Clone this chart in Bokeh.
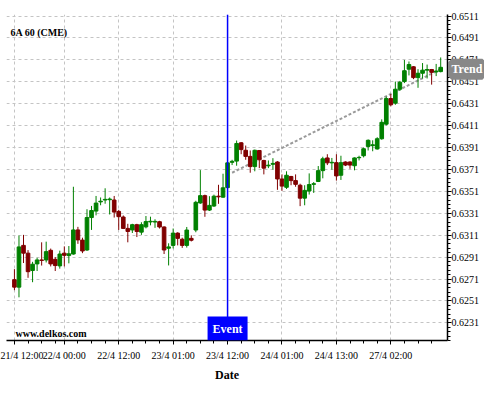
from bokeh.plotting import figure
from bokeh.models import FixedTicker, Span, Label, ColumnDataSource, PrintfTickFormatter, Range1d
from bokeh.embed import file_html
from bokeh.resources import INLINE

# ---- data (hourly OHLC, 6A futures) ----
opens = [0.62704, 0.62636, 0.63017, 0.62946, 0.62788, 0.62848, 0.62884, 0.62884, 0.62972, 0.62890,
         0.62830, 0.62946, 0.62924, 0.62938, 0.63158, 0.63065, 0.62975, 0.63271, 0.63330, 0.63414,
         0.63431, 0.63434, 0.63431, 0.63327, 0.63276, 0.63172, 0.63158, 0.63206, 0.63138, 0.63186,
         0.63231, 0.63230, 0.63233, 0.63185, 0.62991, 0.63017, 0.63129, 0.63073, 0.63017, 0.63081,
         0.63157, 0.63404, 0.63471, 0.63339, 0.63376, 0.63466, 0.63457, 0.63544, 0.63775, 0.63786,
         0.63953, 0.63885, 0.63829, 0.63736, 0.63883, 0.63792, 0.63743, 0.63757, 0.63778, 0.63623,
         0.63547, 0.63646, 0.63608, 0.63566, 0.63448, 0.63513, 0.63574, 0.63600, 0.63699, 0.63815,
         0.63770, 0.63772, 0.63657, 0.63778, 0.63778, 0.63744, 0.63817, 0.63835, 0.63920, 0.63927,
         0.63897, 0.63990, 0.64123, 0.64357, 0.64315, 0.64442, 0.64512, 0.64625, 0.64647, 0.64548,
         0.64588, 0.64616, 0.64622, 0.64600, 0.64603]
highs = [0.62800, 0.63107, 0.63113, 0.62974, 0.62867, 0.62904, 0.63045, 0.63051, 0.62988, 0.62910,
         0.62969, 0.63008, 0.63011, 0.63552, 0.63186, 0.63087, 0.63347, 0.63377, 0.63468, 0.63454,
         0.63538, 0.63454, 0.63468, 0.63341, 0.63290, 0.63214, 0.63214, 0.63214, 0.63228, 0.63285,
         0.63279, 0.63255, 0.63241, 0.63191, 0.63036, 0.63171, 0.63137, 0.63087, 0.63185, 0.63109,
         0.63424, 0.63704, 0.63480, 0.63466, 0.63480, 0.63570, 0.63671, 0.63770, 0.63798, 0.63974,
         0.63960, 0.63928, 0.63883, 0.63891, 0.63885, 0.63798, 0.63792, 0.63813, 0.63786, 0.63665,
         0.63693, 0.63651, 0.63665, 0.63580, 0.63566, 0.63674, 0.63595, 0.63741, 0.63826, 0.63849,
         0.63815, 0.63849, 0.63835, 0.63784, 0.63784, 0.63820, 0.63835, 0.63910, 0.63984, 0.63976,
         0.64004, 0.64167, 0.64375, 0.64399, 0.64512, 0.64518, 0.64709, 0.64695, 0.64653, 0.64625,
         0.64681, 0.64667, 0.64627, 0.64673, 0.64732]
lows = [0.62608, 0.62543, 0.62856, 0.62721, 0.62681, 0.62783, 0.62833, 0.62861, 0.62825, 0.62783,
        0.62805, 0.62825, 0.62853, 0.62932, 0.63031, 0.62946, 0.62966, 0.63158, 0.63291, 0.63383,
        0.63397, 0.63299, 0.63271, 0.63158, 0.63166, 0.63045, 0.63130, 0.63093, 0.63113, 0.63172,
        0.63200, 0.63177, 0.63171, 0.62938, 0.62834, 0.62989, 0.63017, 0.62994, 0.62997, 0.63053,
        0.63137, 0.63396, 0.63278, 0.63331, 0.63368, 0.63396, 0.63452, 0.63538, 0.63750, 0.63744,
        0.63849, 0.63798, 0.63680, 0.63693, 0.63722, 0.63665, 0.63722, 0.63708, 0.63524, 0.63515,
        0.63532, 0.63566, 0.63552, 0.63375, 0.63383, 0.63481, 0.63496, 0.63595, 0.63629, 0.63750,
        0.63708, 0.63608, 0.63614, 0.63741, 0.63716, 0.63702, 0.63792, 0.63820, 0.63883, 0.63876,
        0.63891, 0.63981, 0.64112, 0.64286, 0.64300, 0.64427, 0.64498, 0.64568, 0.64534, 0.64455,
        0.64540, 0.64540, 0.64484, 0.64562, 0.64596]
closes = [0.62636, 0.63003, 0.62946, 0.62777, 0.62845, 0.62884, 0.62880, 0.62960, 0.62848, 0.62833,
          0.62938, 0.62926, 0.62940, 0.63158, 0.63067, 0.62966, 0.63271, 0.63335, 0.63403, 0.63420,
          0.63437, 0.63440, 0.63321, 0.63279, 0.63172, 0.63144, 0.63206, 0.63144, 0.63206, 0.63234,
          0.63237, 0.63236, 0.63185, 0.62975, 0.63003, 0.63129, 0.63081, 0.63017, 0.63157, 0.63064,
          0.63410, 0.63471, 0.63339, 0.63382, 0.63466, 0.63460, 0.63542, 0.63770, 0.63784, 0.63947,
          0.63891, 0.63829, 0.63736, 0.63885, 0.63798, 0.63722, 0.63749, 0.63765, 0.63623, 0.63558,
          0.63657, 0.63608, 0.63574, 0.63448, 0.63519, 0.63572, 0.63580, 0.63699, 0.63807, 0.63770,
          0.63775, 0.63651, 0.63772, 0.63750, 0.63750, 0.63815, 0.63820, 0.63899, 0.63976, 0.63935,
          0.63990, 0.64140, 0.64357, 0.64300, 0.64442, 0.64506, 0.64611, 0.64667, 0.64548, 0.64588,
          0.64616, 0.64622, 0.64596, 0.64608, 0.64642]

tick_bars = [0, 11, 23, 35, 47, 59, 71, 83]
tick_labels = ["21/4 12:00", "22/4 00:00", "22/4 12:00", "23/4 01:00",
               "23/4 12:00", "24/4 01:00", "24/4 13:00", "27/4 02:00"]
price_ticks = [0.6231, 0.6251, 0.6271, 0.6291, 0.6311, 0.6331, 0.6351, 0.6371,
               0.6391, 0.6411, 0.6431, 0.6451, 0.6471, 0.6491, 0.6511]

event_bar = 47
event_text = "Event"
trend_x = [48, 94]
trend_y = [0.63680, 0.64625]
trend_text = "Trend"
title_text = "6A 60 (CME)"
watermark = "www.delkos.com"

# ---- build ----
GREEN = "#008000"
RED = "#800000"
FONT = "Liberation Serif"

n = len(opens)
bars = list(range(n))
colors = [GREEN if c >= o else RED for o, c in zip(opens, closes)]
src = ColumnDataSource(dict(
    x=bars, open=opens, close=closes, high=highs, low=lows,
    top=[max(o, c) for o, c in zip(opens, closes)],
    bottom=[min(o, c) for o, c in zip(opens, closes)],
    color=colors,
))

x_lo, x_hi = -1.75, 95.5
y_lo, y_hi = 0.62149, 0.65124

p = figure(width=484, height=384, x_range=Range1d(x_lo, x_hi), y_range=Range1d(y_lo, y_hi),
           y_axis_location="right", output_backend="svg", toolbar_location=None,
           min_border_left=6, min_border_top=0, min_border_right=37, min_border_bottom=40)
p.outline_line_color = None
p.background_fill_color = "white"
p.border_fill_color = "white"

# x axis
xminor = []
for k, b in enumerate(tick_bars):
    for s in (3, 6, 9):
        m = b + s
        if k + 1 < len(tick_bars) and m >= tick_bars[k + 1]:
            continue
        if m < x_hi - 2:
            xminor.append(m)
xticker = FixedTicker(ticks=tick_bars, minor_ticks=xminor)
xa = p.xaxis[0]
xa.ticker = xticker
xa.major_label_overrides = {b: l for b, l in zip(tick_bars, tick_labels)}
xa.axis_label = "Date"
xa.axis_label_text_font = FONT
xa.axis_label_text_font_style = "bold"
xa.axis_label_text_font_size = "12px"
xa.axis_label_text_color = "black"
xa.axis_label_standoff = 4
xa.major_label_text_font = FONT
xa.major_label_text_font_size = "10px"
xa.major_label_text_color = "black"
xa.major_label_standoff = 5
xa.major_tick_in = 0
xa.major_tick_out = 4
xa.minor_tick_in = 0
xa.minor_tick_out = 3
xa.axis_line_width = 1.5
xa.axis_line_color = "black"

# y axis (right)
yminor = []
v = 0.6215
while v < y_hi:
    yminor.append(round(v, 4))
    v += 0.0004
yticker = FixedTicker(ticks=price_ticks, minor_ticks=yminor)
ya = p.yaxis[0]
ya.ticker = yticker
ya.formatter = PrintfTickFormatter(format="%.4f")
ya.major_label_text_font = FONT
ya.major_label_text_font_size = "10px"
ya.major_label_text_color = "black"
ya.major_label_standoff = 0
ya.major_tick_in = 0
ya.major_tick_out = 4
ya.minor_tick_in = 0
ya.minor_tick_out = 3
ya.axis_line_width = 1.5
ya.axis_line_color = "black"

# grids
p.xgrid.ticker = xticker
p.ygrid.ticker = yticker
for g in (p.xgrid[0], p.ygrid[0]):
    g.grid_line_color = "#c4c4c4"
    g.grid_line_dash = "3 3"
    g.grid_line_width = 1

# trend line
p.line(trend_x, trend_y, line_color="#9a9a9a", line_width=2, line_dash="3 2")

# candles
p.segment(x0="x", y0="low", x1="x", y1="high", line_color="color", line_width=1, source=src)
p.vbar(x="x", width=0.8, top="top", bottom="bottom", fill_color="color",
       line_color="color", line_width=1, source=src)

# event line
p.add_layout(Span(location=event_bar, dimension="height", line_color="#0000ff", line_width=1.5))

# labels
p.add_layout(Label(x=event_bar, y=y_lo, y_offset=0, text=event_text, text_align="center",
                   text_baseline="bottom", text_color="white", text_font=FONT,
                   text_font_style="bold", text_font_size="12px",
                   background_fill_color="#0000ff", padding=5))
# trend tag sits over the price scale, so it lives in a side panel (not clipped to the frame)
p.add_layout(Label(x=x_hi, y=trend_y[-1], x_offset=4, text=trend_text, text_align="left",
                   text_baseline="middle", text_color="white", text_font=FONT,
                   text_font_style="bold", text_font_size="12px",
                   background_fill_color="#888888", border_line_color="#888888",
                   border_line_width=7, padding=0), "above")
p.add_layout(Label(x=x_lo, y=y_hi, x_offset=4, y_offset=-18, text=title_text,
                   text_baseline="middle", text_color="black", text_font=FONT,
                   text_font_style="bold", text_font_size="10px"))
p.add_layout(Label(x=x_lo, y=y_lo, x_offset=9, y_offset=2, text=watermark,
                   text_baseline="bottom", text_color="black", text_font=FONT,
                   text_font_style="bold", text_font_size="10px"))

open("out.html", "w").write(file_html(p, INLINE))
